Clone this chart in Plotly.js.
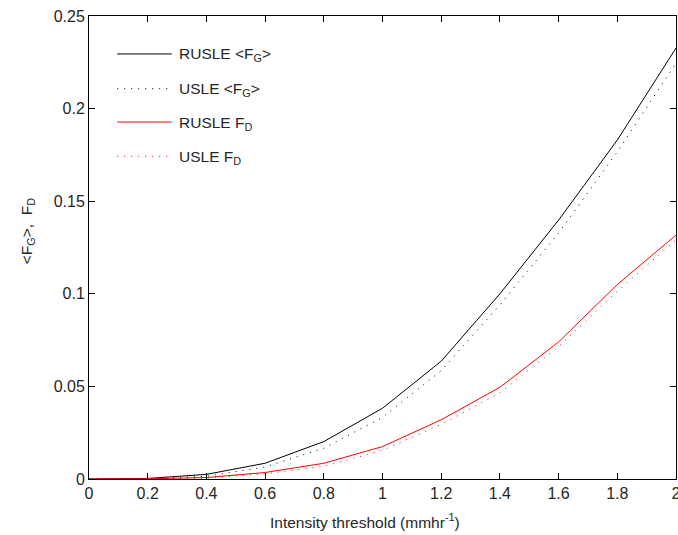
<!DOCTYPE html>
<html>
<head>
<meta charset="utf-8">
<script src="https://cdn.plot.ly/plotly-3.0.1.min.js"></script>
<style>
  html, body { margin: 0; padding: 0; background: #fff; }
  #chart { width: 678px; height: 535px; }
</style>
</head>
<body>
<div id="chart"></div>
<script>
// Intensity thresholds (mm/hr)
const threshold = [0, 0.2, 0.4, 0.6, 0.8, 1.0, 1.2, 1.4, 1.6, 1.8, 2.0];

// Mean grid-scale fraction <F_G> for each erosion model
const rusleFG = [0, 0.0003, 0.0025, 0.0085, 0.0202, 0.0382, 0.0636, 0.1000, 0.1398, 0.1830, 0.2327];
const usleFG  = [0, 0.0001, 0.0015, 0.0065, 0.0166, 0.0333, 0.0585, 0.0940, 0.1328, 0.1767, 0.2246];

// Domain fraction F_D for each erosion model
const rusleFD = [0, 0.0001, 0.0008, 0.0035, 0.0085, 0.0175, 0.0320, 0.0495, 0.0740, 0.1050, 0.1317];
const usleFD  = [0, 0.0000, 0.0005, 0.0028, 0.0068, 0.0155, 0.0295, 0.0465, 0.0715, 0.1015, 0.1290];

const seriesNames = ['RUSLE &lt;F<sub>G</sub>&gt;', 'USLE &lt;F<sub>G</sub>&gt;', 'RUSLE F<sub>D</sub>', 'USLE F<sub>D</sub>'];
const seriesColors = ['#000000', '#000000', '#ff0000', '#ff0000'];
const seriesDash = ['solid', '1px,6px', 'solid', '1px,6px'];

const xTicks = [0, 0.2, 0.4, 0.6, 0.8, 1, 1.2, 1.4, 1.6, 1.8, 2];
const xTickText = ['0', '0.2', '0.4', '0.6', '0.8', '1', '1.2', '1.4', '1.6', '1.8', '2'];
const yTicks = [0, 0.05, 0.1, 0.15, 0.2, 0.25];
const yTickText = ['0', '0.05', '0.1', '0.15', '0.2', '0.25'];

const xTitle = 'Intensity threshold (mmhr<sup>-1</sup>)';
const yTitle = '&lt;F<sub>G</sub>&gt;,  F<sub>D</sub>';

const FAMILY = 'Liberation Sans, Arial, sans-serif';
const TEXT = '#262626';
const labelFont = { family: FAMILY, size: 15.5, color: TEXT };
const tickFont = { family: FAMILY, size: 16, color: TEXT };

const seriesY = [rusleFG, usleFG, rusleFD, usleFD];
const data = seriesY.map((y, i) => ({
  x: threshold, y: y, name: seriesNames[i], type: 'scatter', mode: 'lines',
  line: { color: seriesColors[i], width: 1, dash: seriesDash[i] },
  showlegend: false
}));

// Legend drawn as a key inside the axes: a long line sample followed by its label
const keyX0 = 0.048, keyX1 = 0.141, keyTextX = 0.150;
const keyRowsY = [0.918, 0.843, 0.771, 0.697];
const shapes = [];
const annotations = [];
seriesNames.forEach((name, i) => {
  shapes.push({
    type: 'line', xref: 'paper', yref: 'paper',
    x0: keyX0, x1: keyX1, y0: keyRowsY[i], y1: keyRowsY[i],
    line: { color: seriesColors[i], width: 1, dash: seriesDash[i] }
  });
  annotations.push({
    xref: 'paper', yref: 'paper', x: keyTextX, y: keyRowsY[i],
    xanchor: 'left', yanchor: 'middle', yshift: -1,
    text: name, showarrow: false, font: labelFont
  });
});

// Axis titles
annotations.push({
  xref: 'paper', yref: 'paper', x: 0.47, y: 0, yshift: -42,
  xanchor: 'center', yanchor: 'middle',
  text: xTitle, showarrow: false, font: labelFont
});
annotations.push({
  xref: 'paper', yref: 'paper', x: 0, y: 0.535, xshift: -62,
  xanchor: 'center', yanchor: 'middle', textangle: -90,
  text: yTitle, showarrow: false, font: labelFont
});

const axisCommon = {
  showgrid: false, zeroline: false, showline: true, linecolor: '#000', linewidth: 1,
  mirror: 'ticks', ticks: 'inside', ticklen: 6, tickcolor: '#000', tickwidth: 1,
  tickfont: tickFont, ticklabeloverflow: 'allow'
};

const layout = {
  width: 678, height: 535,
  margin: { l: 89, r: 2, t: 16, b: 56 },
  paper_bgcolor: '#fff', plot_bgcolor: '#fff',
  font: labelFont,
  showlegend: false,
  xaxis: Object.assign({}, axisCommon, {
    range: [0, 2], tickvals: xTicks, ticktext: xTickText
  }),
  yaxis: Object.assign({}, axisCommon, {
    range: [0, 0.25], tickvals: yTicks, ticktext: yTickText
  }),
  shapes: shapes,
  annotations: annotations
};

Plotly.newPlot('chart', data, layout, { staticPlot: true, displayModeBar: false });
</script>
</body>
</html>
